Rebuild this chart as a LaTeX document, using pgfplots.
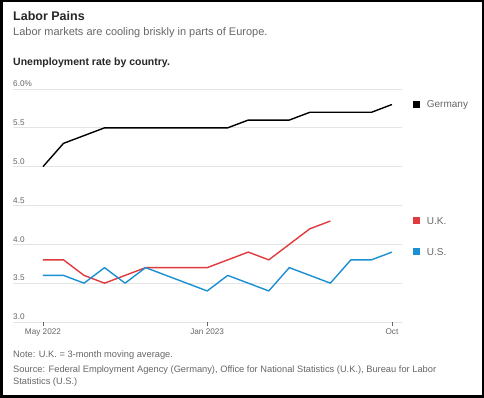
\documentclass[border=0pt]{standalone}
\usepackage{pgfplots}
\pgfplotsset{compat=1.18}
\usepackage{fontspec}
\setmainfont{Liberation Sans}
\definecolor{ukred}{HTML}{E0393E}
\definecolor{usblue}{HTML}{1A8FD2}
\definecolor{txtgray}{HTML}{666666}
\definecolor{gridgray}{HTML}{E4E4E4}
\pgfplotstableread{
m de uk us
0 5.0 3.8 3.6
1 5.3 3.8 3.6
2 5.4 3.6 3.5
3 5.5 3.5 3.7
4 5.5 3.6 3.5
5 5.5 3.7 3.7
6 5.5 3.7 3.6
7 5.5 3.7 3.5
8 5.5 3.7 3.4
9 5.5 3.8 3.6
10 5.6 3.9 3.5
11 5.6 3.8 3.4
12 5.6 4.0 3.7
13 5.7 4.2 3.6
14 5.7 4.3 3.5
15 5.7 nan 3.8
16 5.7 nan 3.8
17 5.8 nan 3.9
}\data
\begin{document}
\begin{tikzpicture}[x=1pt,y=1pt]
\path[use as bounding box] (0,0) rectangle (484,398);
\draw[line width=2.5pt] (1.25,1.25) rectangle (482.75,396.75);
\node[anchor=base west,inner sep=0pt,font=\fontsize{12.5}{14}\selectfont\bfseries,text=black!85] at (13,377) {Labor Pains};
\node[anchor=base west,inner sep=0pt,font=\fontsize{11}{13}\selectfont,text=txtgray] at (13,362) {Labor markets are cooling briskly in parts of Europe.};
\node[anchor=base west,inner sep=0pt,font=\fontsize{10.5}{12}\selectfont\bfseries,text=black!85] at (13,332) {Unemployment rate by country.};
\begin{axis}[
  at={(13pt,76pt)}, anchor=south west,
  scale only axis, width=389pt, height=233pt,
  xmin=-1.46, xmax=17.49, ymin=3, ymax=6,
  axis line style={draw=none},
  ymajorgrids, grid style={gridgray, line width=0.8pt},
  ytick={3,3.5,4,4.5,5,5.5,6},
  yticklabels={3.0,3.5,4.0,4.5,5.0,5.5,6.0\%},
  ytick style={draw=none},
  yticklabel style={anchor=south west, inner sep=0pt, xshift=4pt, yshift=2pt, font=\fontsize{8.2}{9}\selectfont, text=txtgray},
  xtick={0,8,17},
  xticklabels={May 2022,Jan 2023,Oct},
  xtick pos=bottom,
  tick align=outside, major tick length=4pt,
  xtick style={black!60, line width=0.8pt},
  xticklabel style={font=\fontsize{8.2}{9}\selectfont, text=txtgray, inner sep=1pt, yshift=-2pt},
  unbounded coords=jump,
  clip=false,
]
\addplot[black, line width=1.4pt, line join=round] table[x=m,y=de] {\data};
\addplot[ukred, line width=1.4pt, line join=round] table[x=m,y=uk] {\data};
\addplot[usblue, line width=1.4pt, line join=round] table[x=m,y=us] {\data};
\end{axis}
\fill[black] (413.3,290.3) rectangle +(7,7);
\node[anchor=base west,inner sep=0pt,font=\fontsize{10}{12}\selectfont,text=txtgray] at (426.7,290.3) {Germany};
\fill[ukred] (413.3,173.7) rectangle +(7,7);
\node[anchor=base west,inner sep=0pt,font=\fontsize{10}{12}\selectfont,text=txtgray] at (426.7,173.7) {U.K.};
\fill[usblue] (413.3,142.7) rectangle +(7,7);
\node[anchor=base west,inner sep=0pt,font=\fontsize{10}{12}\selectfont,text=txtgray] at (426.7,142.7) {U.S.};
\node[anchor=base west,inner sep=0pt,font=\fontsize{9.3}{13}\selectfont,text=txtgray,align=left] at (13,40) {Note: U.K. = 3-month moving average.};
\node[anchor=base west,inner sep=0pt,font=\fontsize{9.3}{12.5}\selectfont,text=txtgray,align=left] at (13,25) {Source: Federal Employment Agency (Germany), Office for National Statistics (U.K.), Bureau for Labor};
\node[anchor=base west,inner sep=0pt,font=\fontsize{9.3}{12.5}\selectfont,text=txtgray,align=left] at (13,13) {Statistics (U.S.)};
\end{tikzpicture}
\end{document}
